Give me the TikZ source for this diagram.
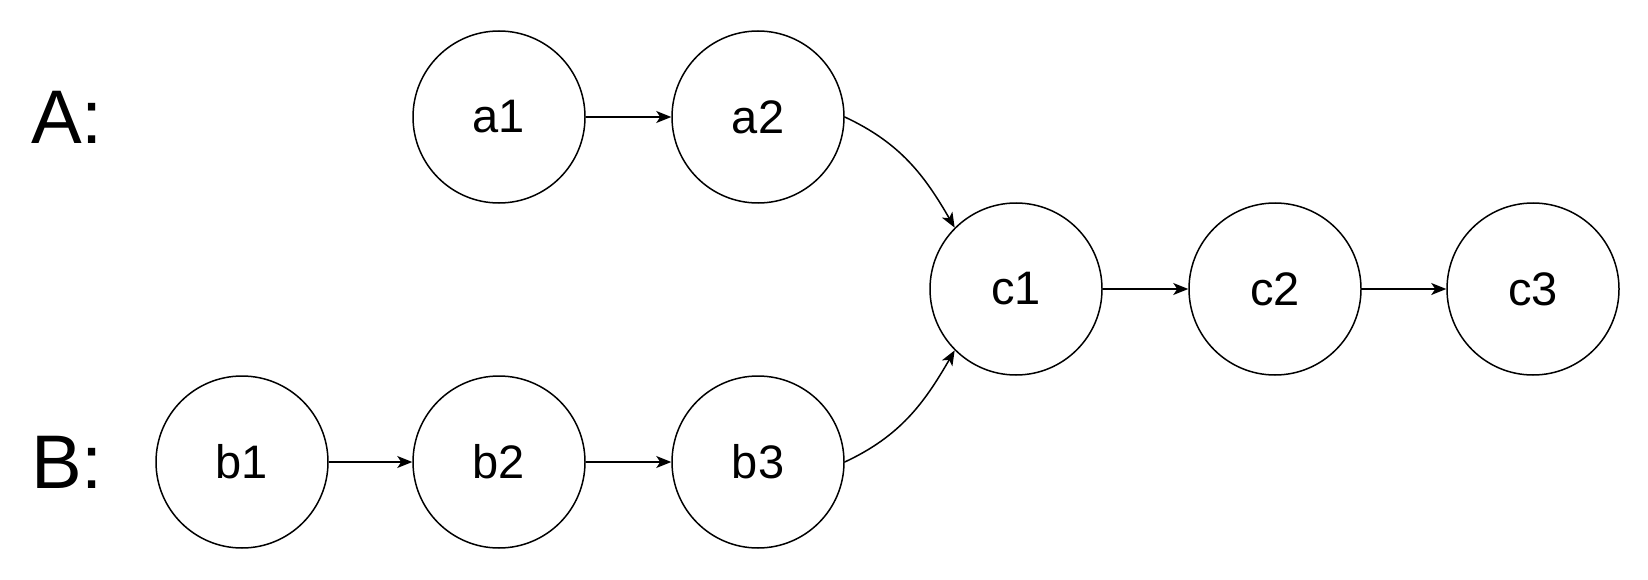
\documentclass[tikz,border=0pt]{standalone}
\usepackage{fontspec}
\setmainfont{Liberation Sans}
\usetikzlibrary{arrows.meta}
\begin{document}
\begin{tikzpicture}[x=1pt,y=-1pt,
  st/.style={circle,draw,line width=1.5pt,minimum size=172pt,inner sep=0pt,font=\fontsize{47}{50}\selectfont},
  lbl/.style={anchor=west,inner sep=0pt,font=\fontsize{76}{80}\selectfont},
  edge/.style={line width=1.5pt,-{Stealth[length=15pt,width=12pt,inset=4pt]}}]
\useasboundingbox (0,0) rectangle (1648,580);
\node[lbl] (A) at (31,117) {A:};
\node[lbl] (B) at (31,462) {B:};
\node[st] (a1) at (499,117) {a1};
\node[st] (a2) at (758,117) {a2};
\node[st] (b1) at (242,462) {b1};
\node[st] (b2) at (499,462) {b2};
\node[st] (b3) at (758,462) {b3};
\node[st] (c1) at (1016,289) {c1};
\node[st] (c2) at (1275,289) {c2};
\node[st] (c3) at (1533,289) {c3};
\draw[edge] (a1) -- (a2);
\draw[edge] (b1) -- (b2);
\draw[edge] (b2) -- (b3);
\draw[edge] (c1) -- (c2);
\draw[edge] (c2) -- (c3);
\draw[edge] (a2.east) to[out=-25,in=120] (c1.north west);
\draw[edge] (b3.east) to[out=25,in=-120] (c1.south west);
\end{tikzpicture}
\end{document}
